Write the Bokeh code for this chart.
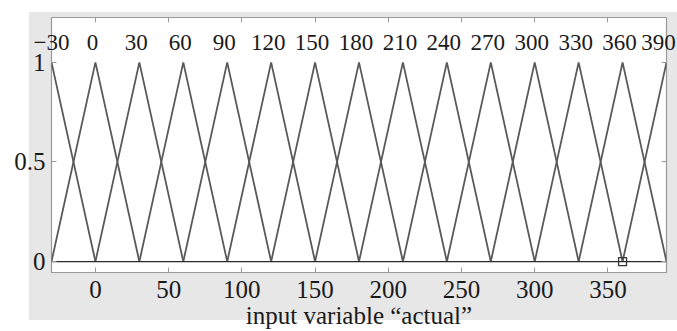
from bokeh.plotting import figure
from bokeh.models import (LinearAxis, FixedTicker, Range1d, ColumnDataSource,
                          CDSView, IndexFilter)
from bokeh.core.properties import value
from bokeh.embed import file_html
from bokeh.resources import INLINE

# ---- data ----
mf_centers = [-30, 0, 30, 60, 90, 120, 150, 180, 210, 240, 270, 300, 330, 360, 390]
mf_names = ["\u221230", "0", "30", "60", "90", "120", "150", "180", "210",
            "240", "270", "300", "330", "360", "390"]
mf_halfwidth = 30
label_level = 1.1
x_ticks = [0, 50, 100, 150, 200, 250, 300, 350]
y_ticks = [0, 0.5, 1]
marker_x = [360]
marker_y = [0]
x_label = "input variable \u201cactual\u201d"

FONT = "Liberation Serif"
TXT = "#1a1a1a"
GRAY_BG = "#e7e7e8"

p = figure(width=677, height=331, output_backend="svg", toolbar_location=None,
           x_range=Range1d(-30, 390), y_range=Range1d(-0.055, 1.225),
           min_border_left=51, min_border_right=11, min_border_top=17,
           min_border_bottom=58, x_axis_location=None, y_axis_location=None)
p.border_fill_color = None
p.styles = {"background": f"linear-gradient({GRAY_BG},{GRAY_BG}) 29px 12px / 648px 308px no-repeat, white"}
p.background_fill_color = "white"
p.outline_line_color = "#9a9a9a"
p.outline_line_width = 1.2
p.grid.visible = False

# membership functions
xs, ys = [], []
for c in mf_centers:
    xs.append([c - mf_halfwidth, c, c + mf_halfwidth])
    ys.append([0, 1, 0])
p.multi_line(xs, ys, line_color="#595959", line_width=1.8)
p.line([mf_centers[0], mf_centers[-1]], [0, 0], line_color="#2a2a2a", line_width=1.3)
p.scatter(marker_x, marker_y, marker="square", size=8, fill_color=None,
          line_color="#333333", line_width=1.3)

# MF names at the top
n = len(mf_centers)
src = ColumnDataSource(dict(x=mf_centers, y=[label_level] * n, t=mf_names))
common = dict(x="x", y="y", text="t", source=src, text_align="center",
              text_baseline="middle", text_font=value(FONT),
              text_font_size="23px", text_color=TXT)
# end labels may extend past the plot box (not clipped)
p.text(view=CDSView(filter=IndexFilter([0])), level="overlay", **common)
p.text(view=CDSView(filter=IndexFilter([n - 1])), level="overlay", x_offset=-8, **common)
# inner labels
p.text(view=CDSView(filter=IndexFilter(list(range(1, n - 1)))), x_offset=-3, **common)

def style(ax, show, ticks):
    ax.major_tick_in = 5
    ax.major_tick_out = 0
    ax.minor_tick_in = 0
    ax.minor_tick_out = 0
    ax.axis_line_color = None
    ax.major_tick_line_color = "#9a9a9a"
    ax.major_label_text_font = FONT
    ax.major_label_text_color = TXT
    if show:
        ax.major_label_text_font_size = "25px"
    else:
        ax.major_label_text_font_size = "0px"
        ax.major_label_standoff = 0
        ax.major_label_overrides = {t: "" for t in ticks}

xb = LinearAxis(ticker=FixedTicker(ticks=x_ticks), axis_label=x_label)
style(xb, True, x_ticks)
xb.major_label_standoff = 8
xb.axis_label_standoff = 1
xb.axis_label_text_font = FONT
xb.axis_label_text_font_style = "normal"
xb.axis_label_text_font_size = "25px"
xb.axis_label_text_color = TXT
p.add_layout(xb, "below")

yl = LinearAxis(ticker=FixedTicker(ticks=y_ticks))
style(yl, True, y_ticks)
yl.major_label_standoff = 6
p.add_layout(yl, "left")

xt = LinearAxis(ticker=FixedTicker(ticks=x_ticks))
style(xt, False, x_ticks)
p.add_layout(xt, "above")

yr = LinearAxis(ticker=FixedTicker(ticks=y_ticks))
style(yr, False, y_ticks)
p.add_layout(yr, "right")

open("out.html", "w").write(file_html(p, INLINE))
